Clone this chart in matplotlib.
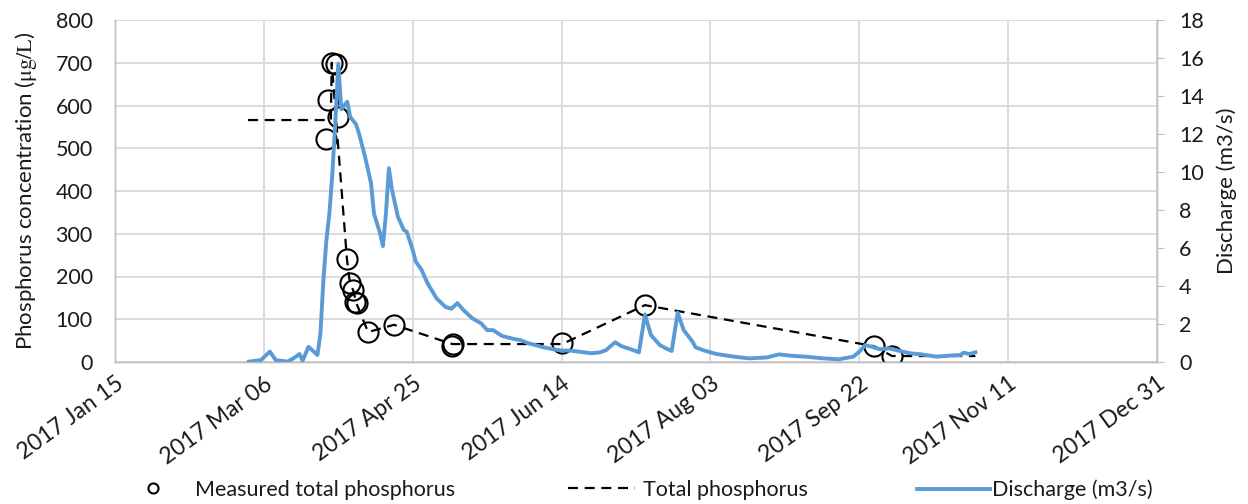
import matplotlib
matplotlib.use('Agg')
import matplotlib.pyplot as plt
import matplotlib.dates as mdates
import pandas

# day of year 2017 (1 = Jan 01)
discharge_days = [60, 64, 67, 69, 73, 75, 77, 78, 80, 83, 84, 85, 86, 87, 88, 89, 90, 91, 93, 94,
                  96, 97, 99, 101, 102, 104, 105, 106, 107, 108, 110, 112, 113, 115, 116, 118, 120,
                  123, 126, 128, 130, 132, 135, 138, 140, 142, 145, 149, 151, 154, 159, 162, 165,
                  168, 171, 175, 178, 180, 183, 185, 189, 191, 193, 195, 198, 200, 202, 204, 206,
                  209, 210, 213, 217, 223, 228, 234, 238, 242, 247, 253, 258, 263, 265, 267, 269,
                  272, 275, 278, 282, 286, 291, 295, 299, 300, 302, 304]
discharge_vals = [0.02, 0.1, 0.55, 0.1, 0.02, 0.2, 0.42, 0.07, 0.8, 0.37, 1.5, 4.3, 6.4, 7.8, 9.9,
                  12.6, 15.7, 13.3, 13.7, 12.9, 12.5, 12.0, 10.8, 9.4, 7.8, 6.8, 6.1, 7.8, 10.2,
                  9.1, 7.65, 6.95, 6.86, 5.9, 5.3, 4.84, 4.14, 3.35, 2.9, 2.8, 3.1, 2.74, 2.3,
                  2.03, 1.68, 1.68, 1.37, 1.21, 1.16, 0.98, 0.77, 0.68, 0.6, 0.6, 0.54, 0.46,
                  0.51, 0.63, 1.04, 0.84, 0.63, 0.51, 2.5, 1.42, 0.89, 0.72, 0.58, 2.6, 1.68,
                  1.07, 0.77, 0.6, 0.42, 0.28, 0.19, 0.24, 0.4, 0.33, 0.28, 0.19, 0.14, 0.28,
                  0.54, 0.89, 0.81, 0.67, 0.72, 0.6, 0.46, 0.4, 0.28, 0.33, 0.37, 0.49, 0.42, 0.51]

measured_days = [87.8, 89.2, 86.5, 89.9, 85.9, 92.9, 93.9, 95.0, 96.3, 95.6, 100.0, 108.7,
                 128.2, 128.5, 165.2, 193.0, 270.0, 276.0]
measured_vals = [700, 697, 613, 573, 522, 241, 185, 168, 138, 140, 70, 87, 37, 42, 44, 133, 37, 14]

tp_days = [59.7, 87.5, 87.8, 92.9, 93.9, 95.0, 96.0, 100.0, 108.7, 128.3, 165.2, 193.0, 270.0,
           276.0, 304.0]
tp_vals = [566, 566, 700, 241, 185, 168, 139, 70, 87, 42, 42, 133, 37, 14, 14]

x_start = '2017-01-15'
x_end = '2017-12-31'
tick_step_days = 50


def to_dates(days):
    return pandas.Timestamp('2016-12-31') + pandas.to_timedelta(days, unit='D')


def main():
    plt.rcParams['font.family'] = ['Lato', 'DejaVu Sans']
    plt.rcParams['mathtext.fontset'] = 'stix'
    grid_color = '#d9d9d9'
    text_color = '#1a1a1a'
    W, H = 1248, 504

    fig = plt.figure(figsize=(W / 100, H / 100), dpi=100)
    ax = fig.add_axes([115 / W, 1 - 362 / H, (1157 - 115) / W, (362 - 20) / H])
    ax2 = ax.twinx()

    tp_line, = ax.plot(to_dates(tp_days), tp_vals, color='black', lw=1.6, ls=(0, (4.5, 3)),
                       label='Total phosphorus', zorder=3)
    meas, = ax.plot(to_dates(measured_days), measured_vals, ls='none', marker='o', ms=14.5,
                    mfc='none', mec='black', mew=1.5, label='Measured total phosphorus', zorder=4)
    q_line, = ax2.plot(to_dates(discharge_days), discharge_vals, color='#5b9bd5', lw=2.8,
                       label='Discharge (m3/s)', zorder=5)

    ticks = pandas.date_range(x_start, x_end, freq=f'{tick_step_days}D')
    ax.set_xlim(pandas.Timestamp(x_start), pandas.Timestamp(x_end))
    ax.set_xticks(ticks)
    ax.xaxis.set_major_formatter(mdates.DateFormatter('%Y %b %d'))
    for lbl in ax.get_xticklabels():
        lbl.set_rotation(36)
        lbl.set_ha('right')
        lbl.set_rotation_mode('anchor')

    ax.set_ylim(0, 800)
    ax.set_yticks(range(0, 801, 100))
    ax2.set_ylim(0, 18)
    ax2.set_yticks(range(0, 19, 2))

    ax.grid(True, color=grid_color, lw=1.3)
    ax.set_axisbelow(True)
    for a in (ax, ax2):
        a.spines['top'].set_visible(False)
        for side in ('left', 'right', 'bottom'):
            a.spines[side].set_color('#bfbfbf')
            a.spines[side].set_linewidth(1.0)
    ax.tick_params(axis='y', length=0, pad=16, labelsize=15.5, labelcolor=text_color)
    ax.tick_params(axis='x', length=0, pad=8, labelsize=16.5, labelcolor=text_color)
    ax2.tick_params(axis='y', length=5, color='#bfbfbf', pad=11, labelsize=15.5,
                    labelcolor=text_color)

    ax.set_ylabel(r'Phosphorus concentration ($\mathrm{\mu g/L}$)', fontsize=16,
                  color=text_color, labelpad=12)
    ax2.set_ylabel('Discharge (m3/s)', fontsize=16, color=text_color, labelpad=9)

    # three legend entries, each with its own handle length like the original
    fs = 15.5
    em = fs * 100 / 72
    y_leg = 1 - 490 / H
    entries = [(meas, 142, 1.0, 195), (tp_line, 568, 3.1, 643), (q_line, 917, 3.4, 992)]
    for handle, x0, hl, xt in entries:
        leg = fig.legend([handle], [handle.get_label()], loc='center left',
                         bbox_to_anchor=(x0 / W, y_leg), frameon=False, fontsize=fs,
                         handlelength=hl, handletextpad=(xt - x0) / em - hl,
                         borderpad=0, borderaxespad=0, markerscale=0.5)
        for t in leg.get_texts():
            t.set_color(text_color)

    fig.savefig('out.png', dpi=100)


if __name__ == '__main__':
    main()
